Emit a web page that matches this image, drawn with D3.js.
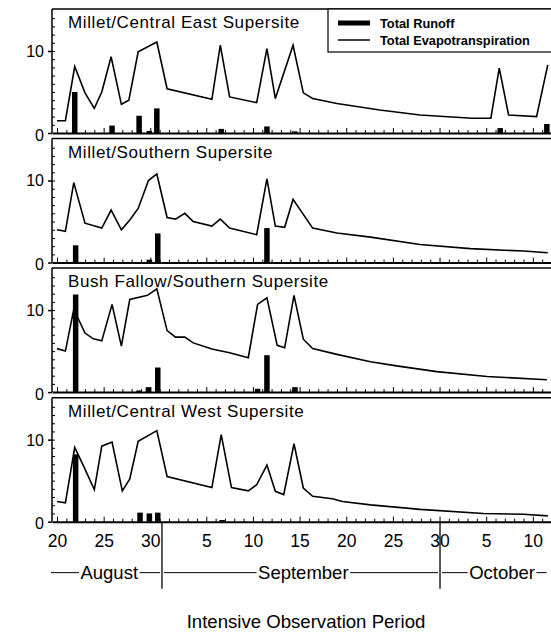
<!DOCTYPE html>
<html>
<head>
<meta charset="utf-8">
<script src="https://cdn.jsdelivr.net/npm/d3@7"></script>
<style>
  html, body { margin: 0; padding: 0; background: #fff; }
  svg { display: block; }
  text { font-family: "Liberation Sans", Arial, Helvetica, sans-serif; fill: #000; }
</style>
</head>
<body>
<svg id="chart" width="551" height="632"></svg>
<script>
// Days are counted from 20 August (day 0); values are daily totals.

const panelTitles = [
  "Millet/Central East Supersite",
  "Millet/Southern Supersite",
  "Bush Fallow/Southern Supersite",
  "Millet/Central West Supersite"
];

// Millet / Central East
const etDaysCE = [0, 0.9, 1.9, 3.0, 4.0, 4.8, 5.8, 6.9, 7.7, 8.7, 10.7, 11.8, 16.6, 17.5, 18.5, 21.4, 22.5, 23.4, 25.3, 26.4, 27.4, 30.0, 34.6, 38.9, 44.5, 46.5, 47.4, 48.4, 51.4, 52.6];
const etCE     = [1.5, 1.5, 8.1, 4.9, 3.0, 5.0, 9.3, 3.5, 4.0, 9.9, 11.1, 5.4, 4.1, 10.7, 4.4, 3.7, 10.3, 4.2, 10.7, 4.9, 4.2, 3.6, 2.8, 2.2, 1.8, 1.8, 7.9, 2.2, 2.0, 8.3];
const roDaysCE = [1.9, 5.9, 8.8, 9.9, 10.7, 17.6, 22.5, 25.5, 47.5, 52.5];
const roCE     = [5.0, 0.9, 2.1, 0.25, 3.0, 0.5, 0.8, 0.2, 0.6, 1.1];

// Millet / Southern
const etDaysMS = [0, 0.9, 1.8, 3.0, 4.8, 5.8, 6.9, 7.8, 8.7, 9.8, 10.7, 11.8, 12.7, 13.7, 14.6, 16.6, 17.5, 18.5, 21.4, 22.5, 23.4, 24.4, 25.3, 27.4, 30.0, 33.6, 38.9, 44.3, 50.0, 52.6];
const etMS     = [4.0, 3.8, 9.75, 4.8, 4.2, 6.4, 4.0, 5.2, 6.6, 10.0, 10.8, 5.5, 5.3, 6.0, 5.0, 4.45, 5.3, 4.2, 3.4, 10.2, 4.45, 4.3, 7.7, 4.2, 3.6, 3.1, 2.2, 1.7, 1.4, 1.2];
const roDaysMS = [2.0, 9.9, 10.8, 22.5];
const roMS     = [2.1, 0.35, 3.55, 4.2];

// Bush fallow / Southern
const etDaysBF = [0, 0.9, 1.8, 3.0, 3.9, 4.8, 5.9, 6.9, 7.8, 9.7, 10.7, 11.8, 12.7, 13.7, 14.6, 16.6, 18.5, 20.5, 21.5, 22.5, 23.6, 24.4, 25.4, 26.4, 27.4, 30.0, 33.6, 36.4, 40.7, 46.1, 52.5];
const etBF     = [5.3, 5.0, 10.1, 7.2, 6.5, 6.25, 10.7, 5.6, 11.3, 11.8, 12.6, 7.5, 6.7, 6.7, 6.0, 5.25, 4.8, 4.2, 10.7, 11.5, 5.7, 5.4, 11.8, 6.45, 5.3, 4.6, 3.7, 3.2, 2.5, 1.9, 1.5];
const roDaysBF = [2.0, 8.8, 9.8, 10.8, 21.5, 22.5, 25.5];
const roBF     = [11.9, 0.2, 0.6, 3.0, 0.4, 4.5, 0.6];

// Millet / Central West
const etDaysCW = [0, 0.9, 1.9, 2.8, 4.0, 4.8, 5.9, 7.0, 7.8, 8.7, 10.7, 11.8, 16.6, 17.6, 18.7, 20.5, 21.4, 22.5, 23.4, 24.3, 25.4, 26.4, 27.4, 29.5, 30.6, 33.6, 38.9, 45.7, 50.0, 52.6];
const etCW     = [2.45, 2.3, 9.05, 6.9, 3.9, 9.2, 9.7, 3.75, 5.2, 9.8, 11.1, 5.5, 4.15, 10.6, 4.15, 3.75, 4.5, 6.9, 3.7, 3.3, 9.5, 4.1, 3.1, 2.8, 2.45, 2.05, 1.5, 1.0, 0.9, 0.7];
const roDaysCW = [2.0, 8.9, 9.9, 10.8, 17.7];
const roCW     = [8.2, 1.1, 1.0, 1.1, 0.2];

// Date axis
const tickDays   = [0, 5, 10, 16, 21, 26, 31, 36, 41, 46, 51];
const tickLabels = ["20", "25", "30", "5", "10", "15", "20", "25", "30", "5", "10"];
const months        = ["August", "September", "October"];
const monthSpans    = [[-0.86, 11.25], [11.25, 41.05], [41.05, 52.7]];
const monthLabelDay = [5.6, 26.4, 47.7];
const monthBreaks   = [11.25, 41.05];

const yTicks = [0, 10];
const legendLabels = ["Total Runoff", "Total Evapotranspiration"];
const xTitle = "Intensive Observation Period";

const panels = [
  { title: panelTitles[0], etDays: etDaysCE, et: etCE, roDays: roDaysCE, ro: roCE },
  { title: panelTitles[1], etDays: etDaysMS, et: etMS, roDays: roDaysMS, ro: roMS },
  { title: panelTitles[2], etDays: etDaysBF, et: etBF, roDays: roDaysBF, ro: roBF },
  { title: panelTitles[3], etDays: etDaysCW, et: etCW, roDays: roDaysCW, ro: roCW }
];

// ---- layout ----
const svg = d3.select("#chart");
const left = 52, right = 553;
const firstTop = 9, panelH = 124, panelStep = 129.55;
const yMax = 15.12;
const barW = 5.5;

const x = d3.scaleLinear().domain([-0.536, 53.16]).range([left, right]);

let lastBase = 0;

panels.forEach((p, i) => {
  const top = firstTop + i * panelStep;
  const base = top + panelH;
  lastBase = base;
  const y = d3.scaleLinear().domain([0, yMax]).range([base, top]);
  const g = svg.append("g");

  // frame: top and left edges
  g.append("line").attr("x1", left).attr("x2", right).attr("y1", top).attr("y2", top)
    .attr("stroke", "#000").attr("stroke-width", 1.5);
  g.append("line").attr("x1", left).attr("x2", left).attr("y1", top).attr("y2", base)
    .attr("stroke", "#000").attr("stroke-width", 1.5);

  // runoff bars
  g.selectAll("rect.runoff")
    .data(d3.zip(p.roDays, p.ro))
    .join("rect")
    .attr("class", "runoff")
    .attr("x", d => x(d[0]) - barW / 2)
    .attr("y", d => y(d[1]))
    .attr("width", barW)
    .attr("height", d => y(0) - y(d[1]))
    .attr("fill", "#000");

  // evapotranspiration line
  const line = d3.line().x(d => x(d[0])).y(d => y(d[1]));
  g.append("path")
    .datum(d3.zip(p.etDays, p.et))
    .attr("d", line)
    .attr("fill", "none")
    .attr("stroke", "#000")
    .attr("stroke-width", 1.6)
    .attr("stroke-linejoin", "miter");

  // bottom axis: daily inward ticks
  const xa = g.append("g").attr("transform", `translate(0,${base})`)
    .call(d3.axisBottom(x).tickValues(d3.range(0, 54)).tickSize(-3).tickSizeOuter(0).tickFormat(""));
  xa.select(".domain").attr("stroke-width", 2);
  xa.selectAll(".tick line").attr("stroke-width", 1)
    .attr("y2", d => tickDays.includes(d) ? -5 : -3);

  // left axis: minor inward ticks + labelled outward ticks
  g.append("g").attr("transform", `translate(${left},0)`)
    .call(d3.axisLeft(y).tickValues(d3.range(1, 15)).tickSize(-3).tickFormat(""))
    .call(a => a.select(".domain").remove());
  const ya = g.append("g").attr("transform", `translate(${left},0)`)
    .call(d3.axisLeft(y).tickValues(yTicks).tickSize(4).tickPadding(4))
    .call(a => a.select(".domain").remove());
  ya.selectAll("text").attr("font-size", 16).attr("font-family", null)
    .attr("dy", d => d === 0 ? "0.45em" : "0.34em");
  ya.selectAll(".tick line").attr("stroke-width", 1.5);

  // panel title
  g.append("text")
    .attr("x", 68).attr("y", top + 19)
    .attr("font-size", 17).attr("letter-spacing", 0.6)
    .text(p.title);

  // legend in first panel
  if (i === 0) {
    const lg = g.append("g");
    lg.append("rect").attr("x", 328).attr("y", top).attr("width", right - 328).attr("height", 43)
      .attr("fill", "#fff").attr("stroke", "#000").attr("stroke-width", 1.2);
    lg.append("rect").attr("x", 338).attr("y", top + 11.5).attr("width", 32).attr("height", 5).attr("fill", "#000");
    lg.append("line").attr("x1", 338).attr("x2", 370).attr("y1", top + 31).attr("y2", top + 31)
      .attr("stroke", "#000").attr("stroke-width", 1.5);
    lg.selectAll("text.leg").data(legendLabels).join("text")
      .attr("class", "leg")
      .attr("x", 380).attr("y", (d, k) => top + 18.5 + k * 17)
      .attr("font-size", 12.8).attr("font-weight", "bold")
      .text(d => d);
  }
});

// date labels under the last panel
const bottomAxis = svg.append("g").attr("transform", `translate(0,${lastBase})`)
  .call(d3.axisBottom(x).tickValues(tickDays).tickSize(0).tickPadding(13)
    .tickFormat((d, k) => tickLabels[k]));
bottomAxis.select(".domain").remove();
bottomAxis.selectAll("text").attr("font-size", 17.5).attr("font-family", null);

// month separators
svg.selectAll("line.mbreak").data(monthBreaks).join("line")
  .attr("class", "mbreak")
  .attr("x1", d => x(d)).attr("x2", d => x(d))
  .attr("y1", lastBase).attr("y2", lastBase + 67)
  .attr("stroke", "#000").attr("stroke-width", 1.3);

// month labels with leader dashes either side
const monthY = lastBase + 51;
months.forEach((m, k) => {
  const t = svg.append("text")
    .attr("x", x(monthLabelDay[k])).attr("y", monthY + 6.5)
    .attr("text-anchor", "middle").attr("font-size", 18.5)
    .text(m);
  const bb = t.node().getBBox();
  const [a, b] = monthSpans[k];
  const segs = [[x(a) + 2, bb.x - 1.5], [bb.x + bb.width + 1.5, x(b) - 2]];
  segs.forEach(s => {
    if (s[1] > s[0]) {
      svg.append("line").attr("x1", s[0]).attr("x2", s[1]).attr("y1", monthY).attr("y2", monthY)
        .attr("stroke", "#000").attr("stroke-width", 1);
    }
  });
});

// axis title
svg.append("text")
  .attr("x", 306).attr("y", 628)
  .attr("text-anchor", "middle").attr("font-size", 18.6)
  .text(xTitle);
</script>
</body>
</html>
